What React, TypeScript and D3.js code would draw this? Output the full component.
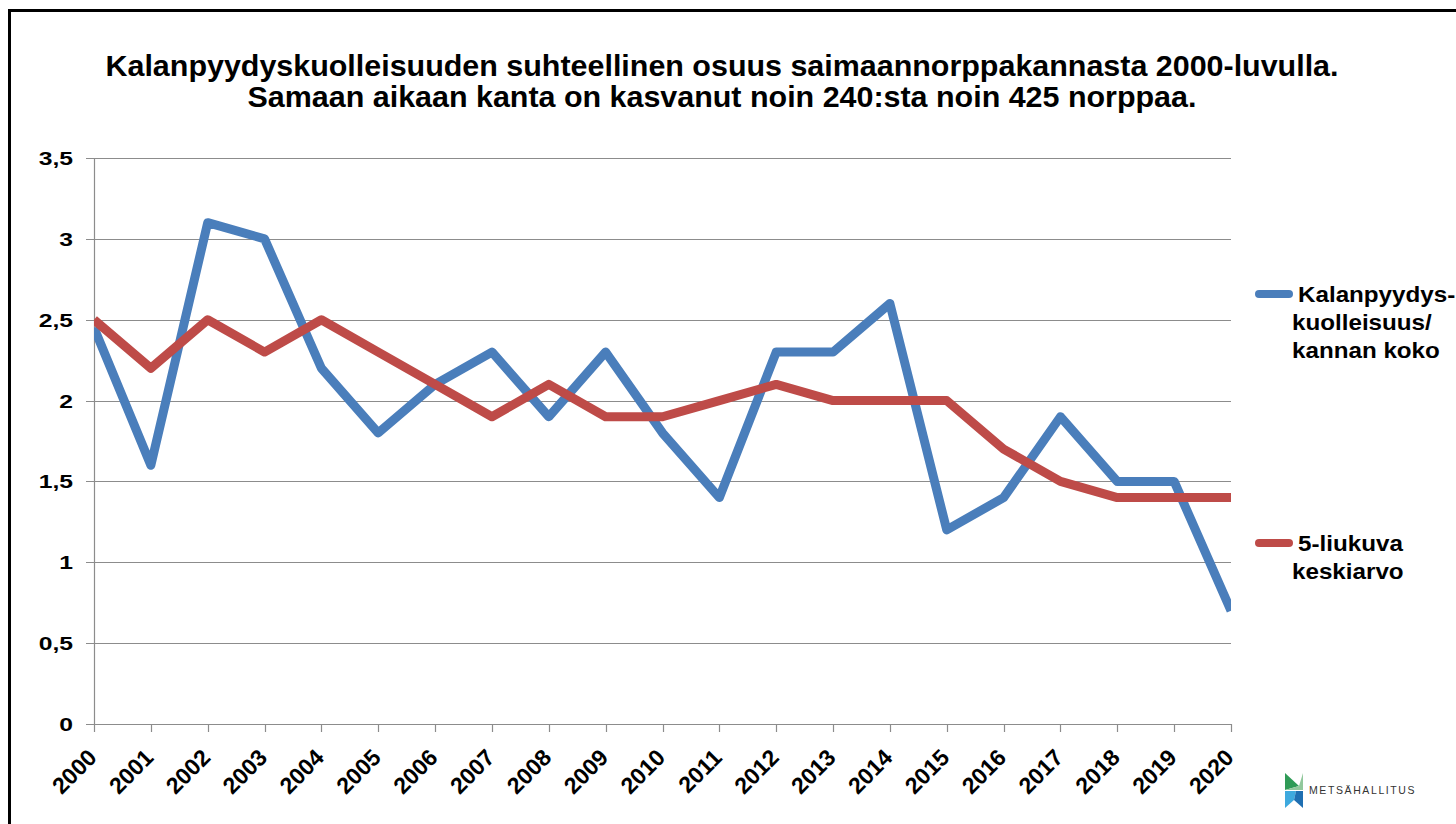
import { useEffect, useRef } from 'react'
import * as d3 from 'd3'

const years = d3.range(2000, 2021).map(String)
const bycatch = [2.45, 1.6, 3.1, 3.0, 2.2, 1.8, 2.1, 2.3, 1.9, 2.3, 1.8, 1.4, 2.3, 2.3, 2.6, 1.2, 1.4, 1.9, 1.5, 1.5, 0.7]
const movingAvg = [2.5, 2.2, 2.5, 2.3, 2.5, 2.3, 2.1, 1.9, 2.1, 1.9, 1.9, 2.0, 2.1, 2.0, 2.0, 2.0, 1.7, 1.5, 1.4, 1.4, 1.4]
const yTicks = [0, 0.5, 1, 1.5, 2, 2.5, 3, 3.5]
const titleLines = [
  'Kalanpyydyskuolleisuuden suhteellinen osuus saimaannorppakannasta 2000-luvulla.',
  'Samaan aikaan kanta on kasvanut noin 240:sta noin 425 norppaa.'
]
const seriesNames = [
  ['Kalanpyydys-', 'kuolleisuus/', 'kannan koko'],
  ['5-liukuva', 'keskiarvo']
]

export default function App() {
  const svgRef = useRef<SVGSVGElement>(null)

  useEffect(() => {
    if (!svgRef.current) return
    const svg = d3.select(svgRef.current)
    svg.selectAll('*').remove()

    const font = '"Liberation Sans", Arial, sans-serif'
    const left = 94, right = 1231, top = 158, bottom = 724

    // outer frame
    svg.append('rect')
      .attr('x', 9.5).attr('y', 10.5)
      .attr('width', 1500).attr('height', 900)
      .attr('fill', '#fff').attr('stroke', '#000').attr('stroke-width', 3)

    const x = d3.scalePoint<string>().domain(years).range([left, right])
    const y = d3.scaleLinear().domain([0, 3.5]).range([bottom, top])

    // title (slightly stretched like the original)
    svg.append('g')
      .attr('transform', 'translate(722,0) scale(1.05,1)')
      .selectAll('text')
      .data(titleLines)
      .enter()
      .append('text')
      .attr('x', 0)
      .attr('y', (d, i) => 76 + i * 31)
      .attr('text-anchor', 'middle')
      .style('font-family', font)
      .style('font-weight', 'bold')
      .style('font-size', '29px')
      .text(d => d)

    // gridlines
    svg.append('g').selectAll('line')
      .data(yTicks)
      .enter()
      .append('line')
      .attr('x1', left - 8).attr('x2', right)
      .attr('y1', d => Math.round(y(d)) + 0.5).attr('y2', d => Math.round(y(d)) + 0.5)
      .attr('stroke', '#8c8c8c').attr('stroke-width', 1.2)

    // y axis line
    svg.append('line')
      .attr('x1', left + 0.5).attr('x2', left + 0.5)
      .attr('y1', top).attr('y2', bottom)
      .attr('stroke', '#8c8c8c').attr('stroke-width', 1.2)

    // y labels
    svg.append('g').selectAll('text')
      .data(yTicks)
      .enter()
      .append('text')
      .attr('transform', d => `translate(73,${y(d) + 7}) scale(1.3,1)`)
      .attr('text-anchor', 'end')
      .style('font-family', font)
      .style('font-weight', 'bold')
      .style('font-size', '19px')
      .text(d => d3.format('.1~f')(d).replace('.', ','))

    // x ticks
    svg.append('g').selectAll('line')
      .data(years)
      .enter()
      .append('line')
      .attr('x1', d => Math.round(x(d)!) + 0.5).attr('x2', d => Math.round(x(d)!) + 0.5)
      .attr('y1', bottom).attr('y2', bottom + 8)
      .attr('stroke', '#8c8c8c').attr('stroke-width', 1.2)

    // x labels
    svg.append('g').selectAll('text')
      .data(years)
      .enter()
      .append('text')
      .attr('transform', d => `translate(${x(d)! + 4},${bottom + 35}) rotate(-45)`)
      .attr('text-anchor', 'end')
      .style('font-family', font)
      .style('font-weight', 'bold')
      .style('font-size', '23px')
      .text(d => d)

    svg.append('clipPath').attr('id', 'plot-clip')
      .append('rect')
      .attr('x', left).attr('y', 0)
      .attr('width', right - left).attr('height', 824)

    const line = d3.line<number>()
      .x((d, i) => x(years[i])!)
      .y(d => y(d))

    const colors = ['#4a7ebb', '#be4b48']
    ;[bycatch, movingAvg].forEach((s, k) => {
      svg.append('path')
        .datum(s)
        .attr('clip-path', 'url(#plot-clip)')
        .attr('fill', 'none')
        .attr('stroke', colors[k])
        .attr('stroke-width', 9)
        .attr('stroke-linejoin', 'round')
        .attr('d', line)
    })

    // legend
    const legendY = [294, 543]
    seriesNames.forEach((lines, k) => {
      const g = svg.append('g')
      g.append('line')
        .attr('x1', 1259).attr('x2', 1289)
        .attr('y1', legendY[k]).attr('y2', legendY[k])
        .attr('stroke', colors[k]).attr('stroke-width', 8)
        .attr('stroke-linecap', 'round')
      g.selectAll('text')
        .data(lines)
        .enter()
        .append('text')
        .attr('transform', (d, i) => `translate(${i === 0 ? 1298 : 1292},${legendY[k] + 8 + i * 28}) scale(1.1,1)`)
        .style('font-family', font)
        .style('font-weight', 'bold')
        .style('font-size', '22px')
        .text(d => d)
    })

    // logo
    const logo = svg.append('g').attr('transform', 'translate(1285,773)')
    logo.append('path').attr('d', 'M0,0 L14,13 L0,17 Z').attr('fill', '#2f9b57')
    logo.append('path').attr('d', 'M18,0 L18,17 L0,17 L14,13 Z').attr('fill', '#91c89c')
    logo.append('path').attr('d', 'M0,18 L11,18 L9,27 L0,35 Z').attr('fill', '#3ea9de')
    logo.append('path').attr('d', 'M11,18 L18,18 L18,35 L9,27 Z').attr('fill', '#1f6fb2')
    logo.append('text')
      .attr('x', 24).attr('y', 21)
      .style('font-family', font)
      .style('font-size', '10.5px')
      .style('letter-spacing', '1.6px')
      .attr('fill', '#333')
      .text('METSÄHALLITUS')
  }, [])

  return (
    <svg
      ref={svgRef}
      width={1456}
      height={824}
      style={{ position: 'fixed', left: 0, top: 0, background: '#fff' }}
    />
  )
}
